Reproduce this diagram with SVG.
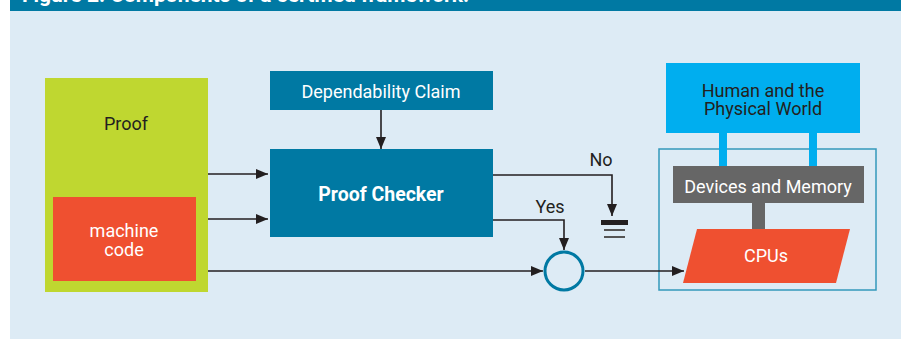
<svg xmlns="http://www.w3.org/2000/svg" width="903" height="339" viewBox="0 0 903 339">
<style>
.t{font-family:Roboto,"Liberation Sans",sans-serif;font-size:18px;text-anchor:middle}
.w{fill:#ffffff}
.d{fill:#231f20}
.ln{stroke:#231f20;stroke-width:1.6;fill:none}
</style>
<defs>
<marker id="ah" markerWidth="12" markerHeight="10" viewBox="0 0 12 10" refX="12" refY="5" orient="auto" markerUnits="userSpaceOnUse">
<path d="M0,0 L12,5 L0,10 Z" fill="#231f20"/>
</marker>
</defs>
<rect x="10" y="0" width="891" height="339" fill="#ddebf5"/>
<rect x="10" y="0" width="891" height="11" fill="#0079a3"/>
<text x="22" y="2" style="font-family:Roboto,'Liberation Sans',sans-serif;font-size:21px;font-weight:bold" fill="#ffffff">Figure 2. Components of a certified framework.</text>

<g id="proof">
<rect x="45" y="78" width="163" height="214" fill="#bfd730"/>
<text class="t d" x="126" y="129.5">Proof</text>
</g>
<g id="machine-code">
<rect x="53" y="197" width="143" height="84" fill="#ef5030"/>
<text class="t w" x="124" y="236.5">machine</text>
<text class="t w" x="124" y="255.5">code</text>
</g>
<g id="dependability-claim">
<rect x="270" y="71" width="223" height="39" fill="#0079a3"/>
<text class="t w" x="381" y="97.5">Dependability Claim</text>
</g>
<g id="proof-checker">
<rect x="270" y="149" width="223" height="88" fill="#0079a3"/>
<text class="t w" x="381" y="201" style="font-weight:bold;font-size:19.5px">Proof Checker</text>
</g>
<g id="ground">
<rect x="601" y="220" width="27" height="5" fill="#231f20"/>
<rect x="604" y="229" width="21" height="2" fill="#555555"/>
<rect x="604" y="236" width="21" height="2" fill="#555555"/>
</g>
<g id="join">
<circle cx="564" cy="271" r="19" fill="#ddebf5" stroke="#0079a3" stroke-width="3"/>
</g>
<g id="platform">
<rect x="659" y="149" width="217" height="141" fill="none" stroke="#3399bb" stroke-width="1.5"/>
</g>
<g id="human">
<rect x="666" y="63" width="194" height="70" fill="#00aeef"/>
<text class="t d" x="763" y="97">Human and the</text>
<text class="t d" x="763" y="115">Physical World</text>
</g>
<g id="devices">
<rect x="673" y="166" width="191" height="37" fill="#666666"/>
<text class="t w" x="768" y="192.5">Devices and Memory</text>
</g>
<g id="cpus">
<polygon points="697,229 850,229 836,283 683,283" fill="#ef5030"/>
<text class="t w" x="766" y="261.5">CPUs</text>
</g>

<g id="connectors">
<line class="ln" x1="208" y1="174" x2="268" y2="174" marker-end="url(#ah)"/>
<line class="ln" x1="208" y1="219" x2="268" y2="219" marker-end="url(#ah)"/>
<line class="ln" x1="208" y1="271" x2="543" y2="271" marker-end="url(#ah)"/>
<line class="ln" x1="381" y1="110" x2="381" y2="149" marker-end="url(#ah)"/>
<polyline class="ln" points="493,175 612,175 612,216" marker-end="url(#ah)"/>
<polyline class="ln" points="493,220 564,220 564,250" marker-end="url(#ah)"/>
<line class="ln" x1="585" y1="271" x2="684" y2="271" marker-end="url(#ah)"/>
<rect x="719" y="133" width="8" height="33" fill="#00aeef"/>
<rect x="809" y="133" width="8" height="33" fill="#00aeef"/>
<rect x="752" y="203" width="13" height="26" fill="#666666"/>
<text class="t d" x="601" y="166">No</text>
<text class="t d" x="550" y="213">Yes</text>
</g>
</svg>
